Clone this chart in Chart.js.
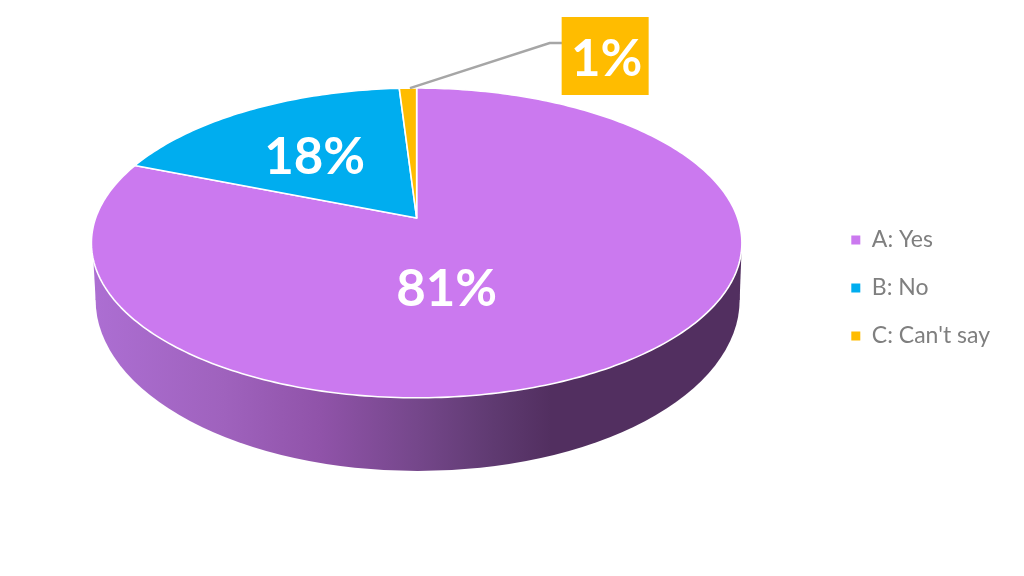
<!DOCTYPE html>
<html>
<head>
<meta charset="utf-8">
<style>
  html, body { margin: 0; padding: 0; background: #fff; }
  #wrap { width: 1024px; height: 576px; }
</style>
<script src="https://cdn.jsdelivr.net/npm/chart.js@4"></script>
</head>
<body>
<div id="wrap"><canvas id="myChart" width="1024" height="576"></canvas></div>
<script>
const categories = ["A: Yes", "B: No", "C: Can't say"];
const values = [81, 18, 1];
const percentLabels = ["81%", "18%", "1%"];
const sliceColors = ["#CB79EF", "#00ADEF", "#FFBC00"];

// look of the tilted disc, tuned by eye against the picture
const LIFT = 70;        // disc centre sits above the canvas centre
const SQUASH = 0.47;    // height / width of the projected circle
const PERSPECTIVE = -0.161;
const DEPTH_DROP = 57;  // lower rim centre below the top rim centre
const labelOffsets = [[30, 72], [-102, -60]];

// circle point -> screen, far side comes out shorter than the near side
const project = (arc, angle, r) => {
  const u = Math.cos(angle) * r;
  const v = Math.sin(angle) * r;
  const w = 1 + PERSPECTIVE * v;
  return {
    x: arc.x + (arc.outerRadius * u) / w,
    y: arc.y - LIFT + (arc.outerRadius * SQUASH * v) / w,
  };
};

const drawWall = (ctx, arc) => {
  const r = arc.outerRadius;
  const rimY = arc.y - LIFT + 25;
  const lowY = rimY + DEPTH_DROP;
  const left = arc.x - r;
  const g = ctx.createLinearGradient(left, 0, arc.x + r, 0);
  [
    [0, "#AC6ED2"],
    [0.2, "#9F62BD"],
    [0.35, "#9053A9"],
    [0.5, "#75478B"],
    [0.62, "#5F3A71"],
    [0.71, "#522F60"],
    [1, "#522F60"],
  ].forEach(([at, c]) => g.addColorStop(at, c));
  ctx.fillStyle = g;
  ctx.beginPath();
  ctx.ellipse(arc.x + 1, lowY, r + 1, 171, 0, 0, Math.PI * 2);
  ctx.fill();
  ctx.beginPath();
  ctx.moveTo(arc.x - r - 3, rimY + 4);
  ctx.lineTo(arc.x + r + 4, rimY + 4);
  ctx.lineTo(arc.x + r + 2, lowY);
  ctx.lineTo(arc.x - r, lowY);
  ctx.closePath();
  ctx.fill();
};

const tiltedPie = {
  id: "tiltedPie",
  beforeDatasetDraw(chart) {
    const ctx = chart.ctx;
    const arcs = chart.getDatasetMeta(0).data;
    ctx.save();
    drawWall(ctx, arcs[0]);
    arcs.forEach((arc, i) => {
      ctx.beginPath();
      const c = project(arc, 0, 0);
      ctx.moveTo(c.x, c.y);
      const steps = Math.max(2, Math.ceil((arc.endAngle - arc.startAngle) * 60));
      for (let s = 0; s <= steps; s++) {
        const a = arc.startAngle + ((arc.endAngle - arc.startAngle) * s) / steps;
        const p = project(arc, a, 1);
        ctx.lineTo(p.x, p.y);
      }
      ctx.closePath();
      ctx.fillStyle = sliceColors[i];
      ctx.fill();
      ctx.strokeStyle = "#fff";
      ctx.lineWidth = 1.6;
      ctx.lineJoin = "round";
      ctx.stroke();
    });
    ctx.restore();
    return false; // slices are done, skip the flat ones
  },
  afterDatasetsDraw(chart) {
    const ctx = chart.ctx;
    const arcs = chart.getDatasetMeta(0).data;
    const centre = project(arcs[0], 0, 0);
    ctx.save();
    ctx.textAlign = "center";
    ctx.textBaseline = "middle";
    ctx.font = "bold 51px Lato";
    ctx.fillStyle = "#fff";
    labelOffsets.forEach(([dx, dy], i) => {
      ctx.fillText(percentLabels[i], centre.x + dx, centre.y + dy);
    });

    // small slice gets a callout
    const small = arcs[2];
    const tip = project(small, (small.startAngle + small.endAngle) / 2, 1);
    ctx.strokeStyle = "#A6A6A6";
    ctx.lineWidth = 2.5;
    ctx.beginPath();
    ctx.moveTo(tip.x + 2, tip.y);
    ctx.lineTo(centre.x + 133, centre.y - 175);
    ctx.lineTo(centre.x + 146, centre.y - 175);
    ctx.stroke();
    ctx.fillStyle = sliceColors[2];
    ctx.fillRect(centre.x + 145, centre.y - 201, 87, 78);
    ctx.fillStyle = "#fff";
    ctx.fillText(percentLabels[2], centre.x + 190, centre.y - 158);
    ctx.restore();
  },
};

new Chart(document.getElementById("myChart").getContext("2d"), {
  type: "pie",
  data: {
    labels: categories,
    datasets: [{ data: values, backgroundColor: sliceColors, borderWidth: 0 }],
  },
  options: {
    responsive: false,
    animation: false,
    radius: 321,
    layout: { padding: { left: 7, right: 24 } },
    plugins: {
      tooltip: { enabled: false },
      legend: {
        position: "right",
        labels: {
          boxWidth: 9,
          boxHeight: 9,
          padding: 25,
          color: "#7F7F7F",
          font: { family: "Lato", size: 23, lineHeight: 1.22 },
        },
      },
    },
  },
  plugins: [tiltedPie],
});
</script>
</body>
</html>
